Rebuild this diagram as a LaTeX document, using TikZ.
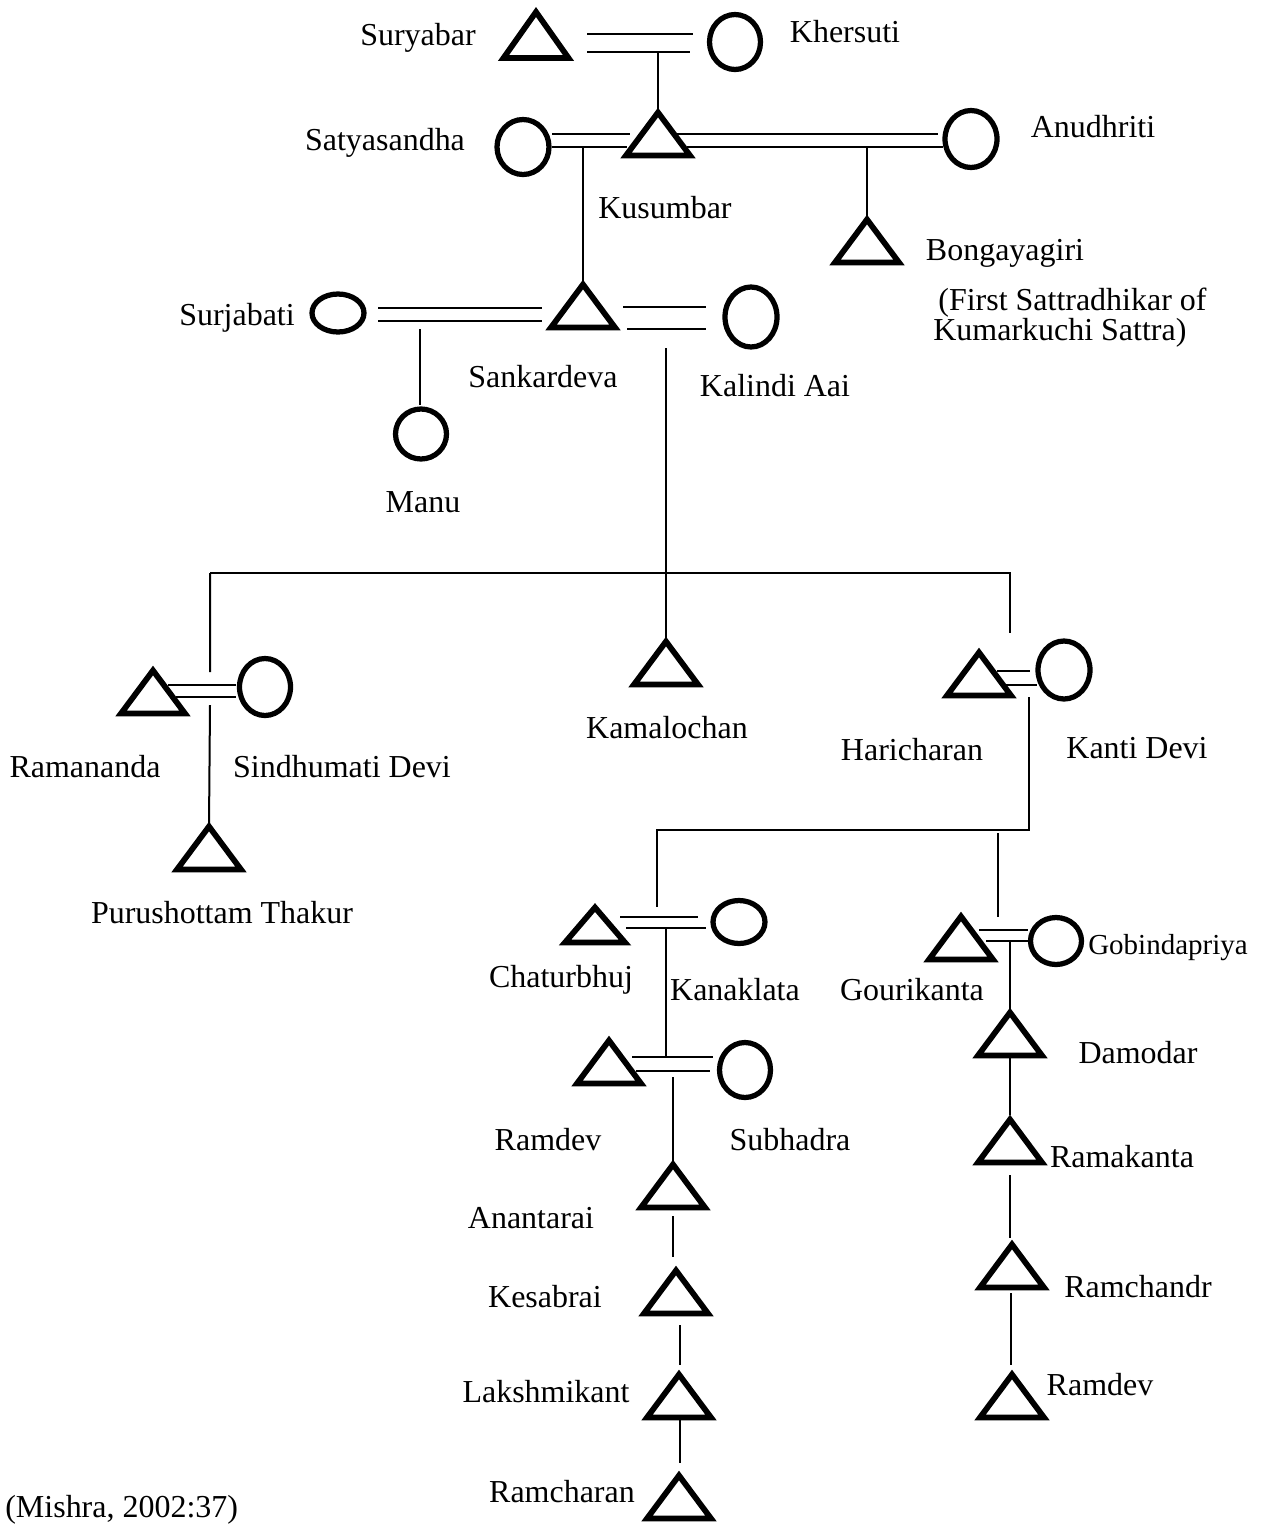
\documentclass[tikz,border=0pt]{standalone}
\usepackage{fontspec}
\setmainfont{Liberation Serif}
\usetikzlibrary{shapes.geometric}
\tikzset{
  sym/.style={line width=0.115cm, line join=miter},
  mbox/.style={rectangle, minimum width=1.28cm, minimum height=0.86cm, inner sep=0pt, outer sep=0pt},
  fem/.style={ellipse, draw, line width=0.105cm, inner sep=0pt, outer sep=0pt},
  lbl/.style={font=\fontsize{18.2}{22}\selectfont, inner sep=0pt, text height=0.42cm, text depth=0pt},
  link/.style={line width=0.04cm},
}
\newcommand\male[4][]{\node[mbox,#1] (#2) at (#3,#4) {};
  \draw[sym] (#2.south west) -- (#2.north) -- (#2.south east) -- cycle;}
\newcommand\female[5]{\node[fem, minimum width=#4cm, minimum height=#5cm] (#1) at (#2,#3) {};}
\begin{document}
\begin{tikzpicture}[x=0.02cm, y=-0.02cm]
\useasboundingbox (0,0) rectangle (1286,1525);
% ---------- persons ----------
\male[minimum width=1.30cm, minimum height=0.92cm]{sury}{536}{35}
\female{kher}{735}{42}{1.02}{1.10}
\male{kus}{658}{134}
\female{satya}{523}{147}{1.04}{1.10}
\female{anud}{971}{139}{1.04}{1.14}
\male{bong}{867}{241}
\male{sank}{583}{306}
\female{surj}{338}{313}{1.04}{0.76}
\female{manu}{421}{434}{1.02}{1.00}
\female{kal}{751}{317}{1.04}{1.20}
\male{rama}{153}{692}
\female{sind}{265}{687}{1.02}{1.14}
\male{puru}{209}{848}
\male{kamal}{666}{663}
\male{hari}{979}{674}
\female{kanti}{1064}{670}{1.04}{1.16}
\male[minimum width=1.20cm, minimum height=0.70cm]{chat}{595}{925}
\female{kanak}{739}{922}{1.04}{0.86}
\male{ramdevA}{609}{1062}
\female{subh}{745}{1070}{1.02}{1.10}
\male{anan}{673}{1186}
\male{kesab}{676}{1292}
\male{laksh}{679}{1396}
\male{ramch}{679}{1497}
\male{gouri}{961}{938}
\female{gobi}{1056}{941}{1.02}{0.94}
\male{damo}{1010}{1034}
\male{ramak}{1010}{1141}
\male{ramchd}{1012}{1266}
\male{ramdevB}{1012}{1396}
% ---------- union / branch points ----------
\coordinate (u1) at (658,52);
\coordinate (u2) at (583,147);
\coordinate (u3) at (867,148);
\coordinate (u4) at (420,329);
\coordinate (u5) at (666,348);
\coordinate (b1) at (666,573);
\coordinate (bl) at (210,573);
\coordinate (br) at (1010,573);
\coordinate (u6) at (1029,697);
\coordinate (b2r) at (1029,830);
\coordinate (b2l) at (657,830);
\coordinate (u7) at (666,928);
\coordinate (u8) at (673,1077);
\coordinate (u9) at (1010,941);
% ---------- marriage lines ----------
\draw[link] (587,34) -- (693,34) (587,52) -- (690,52);
\draw[link] (552,134) -- (630,134) (552,147) -- (627,147);
\draw[link] (677,134) -- (938,134) (687,147) -- (943,147);
\draw[link] (378,308) -- (542,308) (378,321) -- (542,321);
\draw[link] (623,307) -- (706,307) (627,329) -- (706,329);
\draw[link] (168,685) -- (236,685) (176,697) -- (236,697);
\draw[link] (997,671) -- (1030,671) (1006,685) -- (1037,685);
\draw[link] (620,917) -- (698,917) (626,928) -- (706,928);
\draw[link] (632,1057) -- (713,1057) (636,1071) -- (710,1071);
\draw[link] (979,930) -- (1028,930) (986,941) -- (1028,941);
% ---------- descent lines ----------
\draw[link] (u1) -- (kus.north);
\draw[link] (u2) -- (sank.north);
\draw[link] (u3) -- (bong.north);
\draw[link] (u4) -- (420,405);
\draw[link] (u5) -- (b1) -- (kamal.north);
\draw[link] (bl) -- (br) -- (1010,633);
\draw[link] (bl) -- (210,672) (210,705) -- (puru.north);
\draw[link] (u6) -- (b2r) -- (b2l) -- (657,907);
\draw[link] (998,833) -- (998,917);
\draw[link] (u7) -- (666,1057);
\draw[link] (u8) -- (anan.north);
\draw[link] (673,1216) -- (673,1257);
\draw[link] (680,1325) -- (680,1365);
\draw[link] (680,1420) -- (680,1463);
\draw[link] (u9) -- (damo.north);
\draw[link] (1010,1057) -- (1010,1115);
\draw[link] (1010,1175) -- (1010,1238);
\draw[link] (1011,1293) -- (1011,1365);
% ---------- labels ----------
\node[lbl] (lsury) at (418,35) {Suryabar};
\node[lbl] (lkher) at (845,32) {Khersuti};
\node[lbl] (lsatya) at (385,140) {Satyasandha};
\node[lbl] (lkus) at (665,208) {Kusumbar};
\node[lbl] (lanud) at (1093,127) {Anudhriti};
\node[lbl] (lbong) at (1005,250) {Bongayagiri};
\node[lbl, anchor=west] (lbong2) at (938,300) {(First Sattradhikar of};
\node[lbl, anchor=west] (lbong3) at (933,330) {Kumarkuchi Sattra)};
\node[lbl] (lsurj) at (237,315) {Surjabati};
\node[lbl] (lsank) at (543,377) {Sankardeva};
\node[lbl] (lkal) at (775,386) {Kalindi Aai};
\node[lbl] (lmanu) at (423,502) {Manu};
\node[lbl] (lrama) at (85,767) {Ramananda};
\node[lbl] (lsind) at (342,767) {Sindhumati Devi};
\node[lbl] (lkamal) at (667,728) {Kamalochan};
\node[lbl] (lhari) at (912,750) {Haricharan};
\node[lbl] (lkanti) at (1137,748) {Kanti Devi};
\node[lbl] (lpuru) at (222,913) {Purushottam Thakur};
\node[lbl] (lchat) at (561,977) {Chaturbhuj};
\node[lbl] (lkanak) at (735,990) {Kanaklata};
\node[lbl] (lgouri) at (912,990) {Gourikanta};
\node[lbl, font=\fontsize{16.5}{20}\selectfont, text height=0.38cm] (lgobi) at (1168,945) {Gobindapriya};
\node[lbl] (ldamo) at (1138,1053) {Damodar};
\node[lbl] (lramdevA) at (548,1140) {Ramdev};
\node[lbl] (lsubh) at (790,1140) {Subhadra};
\node[lbl] (lramak) at (1122,1157) {Ramakanta};
\node[lbl] (lanan) at (531,1218) {Anantarai};
\node[lbl] (lkesab) at (545,1297) {Kesabrai};
\node[lbl] (lramchd) at (1138,1287) {Ramchandr};
\node[lbl] (llaksh) at (546,1392) {Lakshmikant};
\node[lbl] (lramdevB) at (1100,1385) {Ramdev};
\node[lbl] (lramch) at (562,1492) {Ramcharan};
\node[font=\fontsize{18.2}{22}\selectfont, inner sep=0pt, anchor=base west] (src) at (5,1517) {(Mishra, 2002:37)};
\end{tikzpicture}
\end{document}
